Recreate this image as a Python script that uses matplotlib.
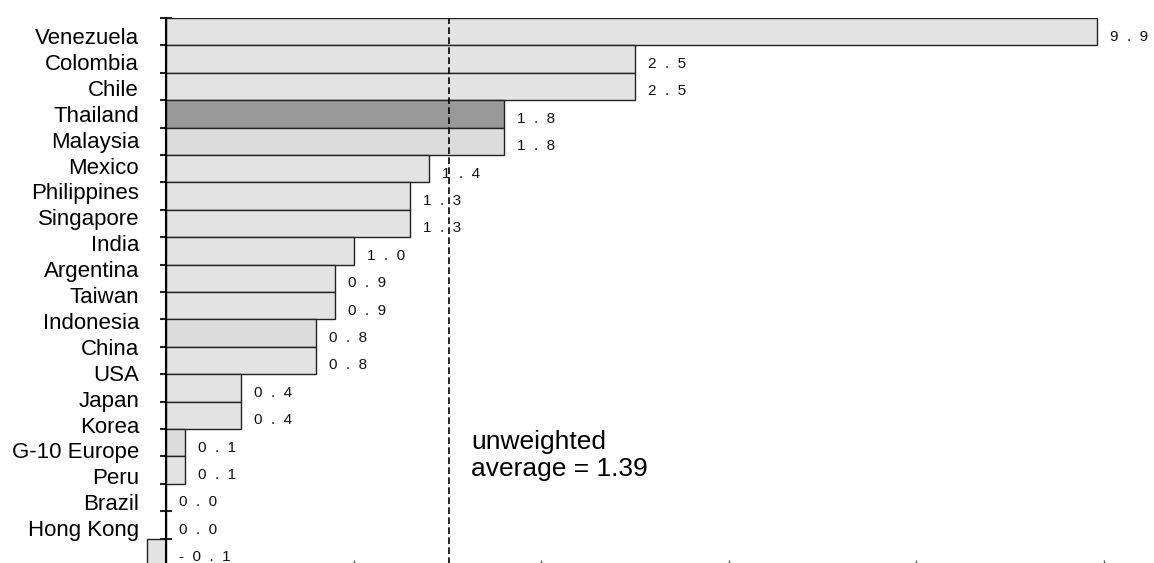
import matplotlib
matplotlib.use('Agg')
import matplotlib.pyplot as plt
import numpy as np

plt.rcParams['font.family'] = ['Liberation Sans', 'DejaVu Sans']

countries = ['Venezuela', 'Colombia', 'Chile', 'Thailand', 'Malaysia', 'Mexico',
             'Philippines', 'Singapore', 'India', 'Argentina', 'Taiwan', 'Indonesia',
             'China', 'USA', 'Japan', 'Korea', 'G-10 Europe', 'Peru', 'Brazil', 'Hong Kong']
values = [9.9, 2.5, 2.5, 1.8, 1.8, 1.4, 1.3, 1.3, 1.0, 0.9, 0.9, 0.8, 0.8,
          0.4, 0.4, 0.1, 0.1, 0.0, 0.0, -0.1]
avg_text = 'unweighted\naverage = 1.39'
avg_line = 1.508      # where the dashed line sits on the axis
axis_cap = 4.96       # Venezuela bar is cut at the edge of the scale

colors = ['#e3e3e3'] * len(values)
colors[3] = '#999999'
for k in (4, 11, 15):
    colors[k] = '#dcdcdc'

W, H = 1154, 563
fig = plt.figure(figsize=(W / 100, H / 100), dpi=100)
ax = fig.add_axes([146 / W, -3 / H, 1008 / W, 548 / H])

y = np.arange(len(values))
shown = [min(v, axis_cap) for v in values]
ax.barh(y, shown, height=1.0, color=colors, edgecolor='#222222', linewidth=1.0, zorder=2)

for i, v in enumerate(values):
    lab = '  '.join(f'{v:.1f}')
    ax.annotate(lab, xy=(max(min(v, axis_cap), 0), i), xytext=(13, -5),
                textcoords='offset pixels', ha='left', va='center', fontsize=11,
                color='#111111', annotation_clip=False)

ax.axvline(avg_line, color='black', linestyle=(0, (4, 2)), linewidth=1.2, zorder=3)
ax.text(1.626, 15.48, avg_text, fontsize=19, ha='left', va='center', linespacing=1.15)

ax.set_xlim(-0.1066, 5.2665)
ax.set_ylim(len(values) - 0.5, -0.5)
ax.set_xticks([1, 2, 3, 4, 5])
ax.set_xticklabels([])
ax.set_yticks(np.arange(-0.5, len(values), 1))
ax.set_yticklabels([])
ax.tick_params(axis='y', direction='inout', length=8, width=1.5, color='#222222')
ax.tick_params(axis='x', direction='in', length=4, width=1, color='#555555')
for s in ['top', 'right', 'bottom']:
    ax.spines[s].set_visible(False)
ax.spines['left'].set_position(('data', 0))
ax.spines['left'].set_linewidth(1.5)
ax.spines['left'].set_zorder(4)

# category names sit on their own scale, slightly tighter than the bars
ax2 = ax.twinx()
ax2.set_ylim(20.46, -0.695)
ax2.set_yticks(range(len(countries)))
ax2.set_yticklabels(countries, fontsize=16)
ax2.yaxis.set_ticks_position('left')
ax2.tick_params(axis='y', length=0, pad=5)
for s in ax2.spines.values():
    s.set_visible(False)

plt.savefig('out.png', dpi=100)
